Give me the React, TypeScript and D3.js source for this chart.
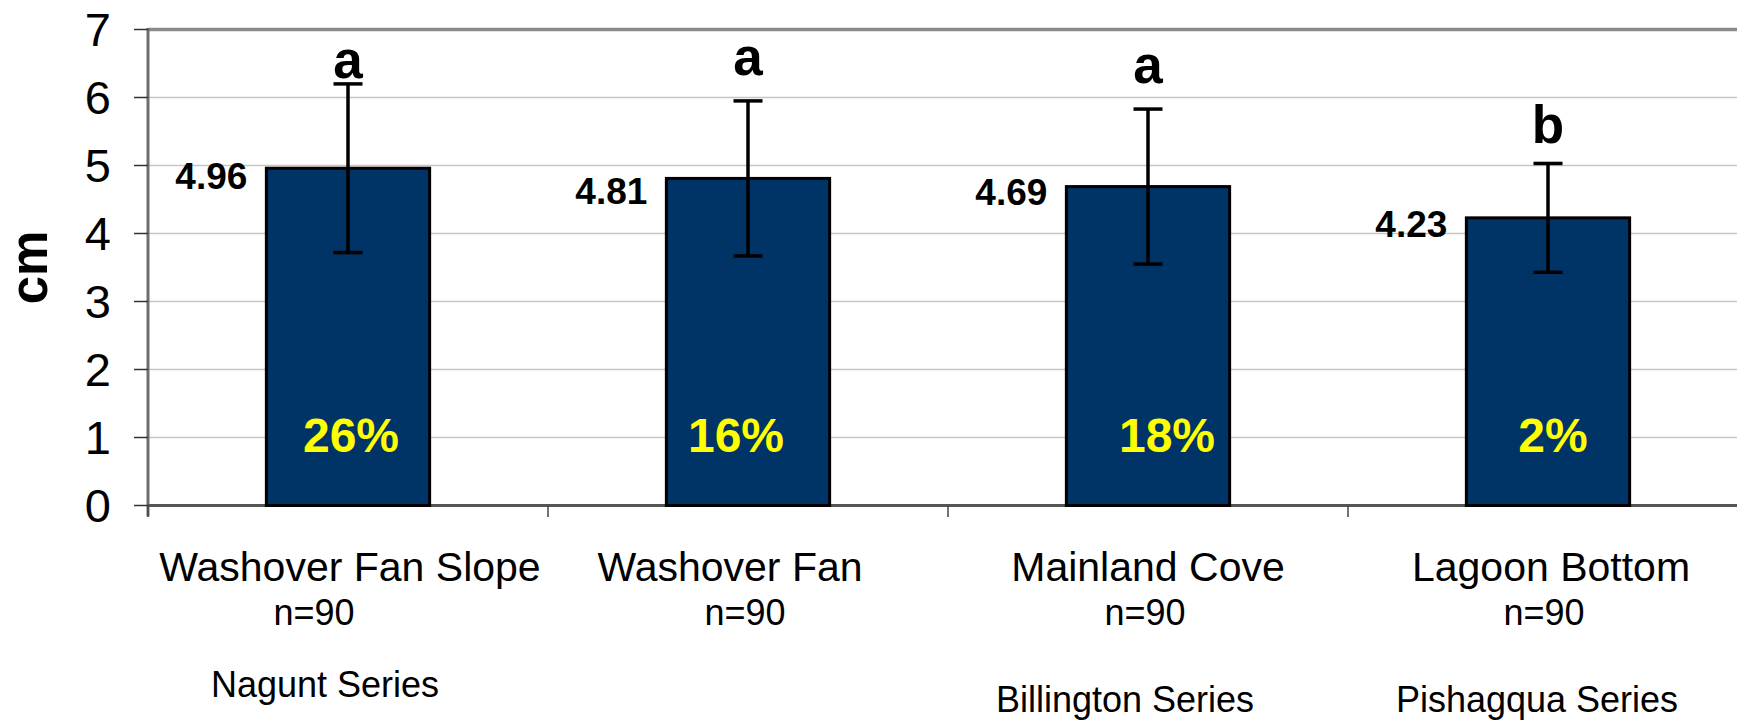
import React from 'react';
import * as d3 from 'd3';

// Sampling sites along the transect
const sites = ['Washover Fan Slope', 'Washover Fan', 'Mainland Cove', 'Lagoon Bottom'];
// Number of cores per site
const sampleSizes = [90, 90, 90, 90];
// Mapped soil series for each site ('' where none is named)
const soilSeries = ['Nagunt Series', '', 'Billington Series', 'Pishagqua Series'];
// Mean depth (cm) and error-bar half width (cm)
const meanDepth = [4.96, 4.81, 4.69, 4.23];
const depthError = [1.24, 1.14, 1.14, 0.8];
// Share (%) written inside each bar
const sharePercent = [26, 16, 18, 2];
// Significance groups and the level (cm) where each letter sits
const groupLetters = ['a', 'a', 'a', 'b'];
const letterLevel = [6.28, 6.33, 6.21, 5.33];
// Value axis ticks
const yTicks = [0, 1, 2, 3, 4, 5, 6, 7];

// Small hand placements of the text boxes (px)
const nameShift = [2, -18, 0, 3];
const countShift = [-34, -3, -3, -4];
const seriesShift = [-23, 0, -23, -11];
const seriesDrop = [0, 0, 14.5, 14.5];
const pctShift = [3, -12, 19, 5];
const valueDrop = [0, 5, -3, -2];

const W = 1737;
const H = 720;
const FONT = "'Liberation Sans', Arial, Helvetica, sans-serif";

export default function App() {
  const gap = 1.45 / 2.45;
  const x = d3
    .scaleBand<string>()
    .domain(sites)
    .range([148, 1748])
    .paddingInner(gap)
    .paddingOuter(gap / 2);
  const y = d3.scaleLinear().domain([0, 7]).range([505.5, 29.5]);

  const left = 148;
  const right = W;
  const step = x.step();
  const bw = x.bandwidth();
  const cx = (s: string) => (x(s) as number) + bw / 2;
  const boundaries = sites.map((s) => (x(s) as number) - (step * gap) / 2);

  return (
    <svg
      width={W}
      height={H}
      style={{ position: 'absolute', left: 0, top: 0, background: '#fff' }}
      fontFamily={FONT}
    >
      <rect x={0} y={0} width={W} height={H} fill="#fff" />

      {/* horizontal gridlines */}
      {yTicks
        .filter((t) => t > 0 && t < 7)
        .map((t) => (
          <line key={'g' + t} x1={left} x2={right} y1={y(t)} y2={y(t)} stroke="#c6c6c6" strokeWidth={1.5} />
        ))}
      {/* plot area top border */}
      <line x1={left} x2={right} y1={y(7)} y2={y(7)} stroke="#8a8a8a" strokeWidth={3.5} />

      {/* value axis */}
      <line x1={left} x2={left} y1={y(7) - 1.5} y2={y(0) + 11} stroke="#6e6e6e" strokeWidth={3} />
      {yTicks.map((t) => (
        <g key={'t' + t}>
          <line x1={134} x2={left} y1={y(t)} y2={y(t)} stroke="#333" strokeWidth={1.5} />
          <text x={111} y={y(t)} dy="0.36em" textAnchor="end" fontSize={47} fill="#000">
            {t}
          </text>
        </g>
      ))}
      <text
        transform={`translate(47, ${(y(0) + y(7)) / 2}) rotate(-90)`}
        textAnchor="middle"
        fontSize={51}
        fontWeight="bold"
        fill="#000"
      >
        cm
      </text>

      {/* category axis */}
      <line x1={left} x2={right} y1={y(0)} y2={y(0)} stroke="#555" strokeWidth={3} />
      {boundaries.map((bx, i) => (
        <line key={'c' + i} x1={bx} x2={bx} y1={y(0)} y2={y(0) + 11.5} stroke="#444" strokeWidth={1.5} />
      ))}

      {/* bars */}
      {sites.map((s, i) => (
        <rect
          key={'b' + s}
          x={x(s)}
          y={y(meanDepth[i])}
          width={bw}
          height={y(0) - y(meanDepth[i])}
          fill="#003366"
          stroke="#000"
          strokeWidth={3}
        />
      ))}

      {/* error bars */}
      {sites.map((s, i) => {
        const c = cx(s);
        const hi = y(meanDepth[i] + depthError[i]);
        const lo = y(meanDepth[i] - depthError[i]);
        return (
          <g key={'e' + s} stroke="#000" strokeWidth={3.5}>
            <line x1={c} x2={c} y1={hi} y2={lo} />
            <line x1={c - 14.5} x2={c + 14.5} y1={hi} y2={hi} />
            <line x1={c - 14.5} x2={c + 14.5} y1={lo} y2={lo} />
          </g>
        );
      })}

      {/* mean values beside the bars */}
      {sites.map((s, i) => (
        <text
          key={'v' + s}
          x={(x(s) as number) - 19}
          y={y(meanDepth[i]) + 21 + valueDrop[i]}
          textAnchor="end"
          fontSize={37}
          fontWeight="bold"
          fill="#000"
        >
          {meanDepth[i].toFixed(2)}
        </text>
      ))}

      {/* significance letters */}
      {sites.map((s, i) => (
        <text
          key={'l' + s}
          x={cx(s)}
          y={y(letterLevel[i])}
          textAnchor="middle"
          fontSize={53}
          fontWeight="bold"
          fill="#000"
        >
          {groupLetters[i]}
        </text>
      ))}

      {/* percentages inside the bars */}
      {sites.map((s, i) => (
        <text
          key={'p' + s}
          x={cx(s) + pctShift[i]}
          y={y(0) - 54}
          textAnchor="middle"
          fontSize={48}
          fontWeight="bold"
          fill="#ffff00"
        >
          {sharePercent[i]}%
        </text>
      ))}

      {/* category labels */}
      {sites.map((s, i) => (
        <g key={'n' + s} fill="#000" textAnchor="middle">
          <text x={cx(s) + nameShift[i]} y={581} fontSize={41}>
            {s}
          </text>
          <text x={cx(s) + countShift[i]} y={624.5} fontSize={36}>
            n={sampleSizes[i]}
          </text>
          {soilSeries[i] && (
            <text x={cx(s) + seriesShift[i]} y={697 + seriesDrop[i]} fontSize={36}>
              {soilSeries[i]}
            </text>
          )}
        </g>
      ))}
    </svg>
  );
}
